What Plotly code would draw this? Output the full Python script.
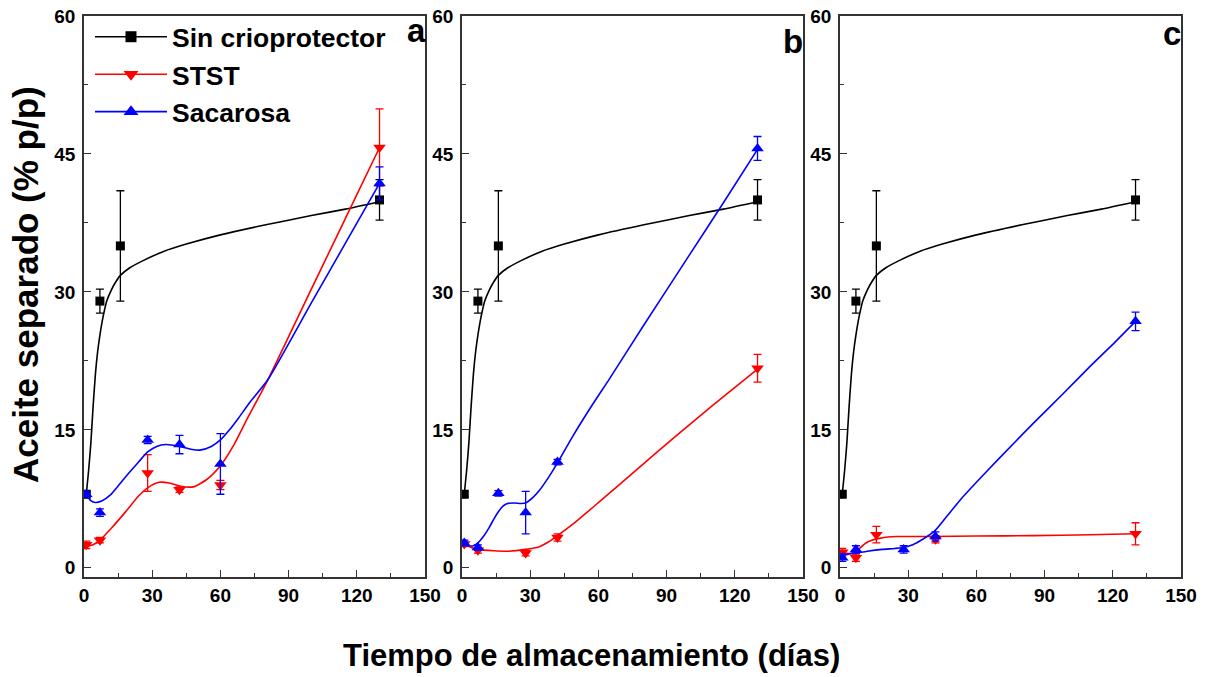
import plotly.graph_objects as go

# ---------------- data ----------------
# Sin crioprotector (identical in all three panels)
days_black = [1, 7, 16, 130]
val_black = [8.0, 29.0, 35.0, 40.0]
err_black = [0.3, 1.3, 6.0, 2.2]
fit_days_black = [1, 2, 3, 4, 5, 6, 7, 8, 9, 10, 12, 14, 16, 20, 26, 35, 45, 60, 80, 100, 115, 130]
fit_black = [8.0, 10.5, 13.5, 17.5, 21.0, 23.5, 25.3, 26.8, 28.0, 29.0, 30.2, 31.1, 31.8, 32.6,
             33.4, 34.4, 35.2, 36.2, 37.3, 38.3, 39.0, 39.8]

# Panel a
days_stst_a = [1, 7, 28, 42, 60, 130]
val_stst_a = [2.5, 3.0, 10.3, 8.5, 9.0, 45.7]
err_stst_a = [0.4, 0.3, 2.0, 0.3, 0.5, 4.2]
fit_days_stst_a = [1, 4, 7, 12, 18, 24, 28, 33, 38, 42, 48, 54, 60, 66, 72, 81, 100, 115, 130]
fit_stst_a = [2.3, 2.5, 3.0, 4.3, 6.0, 7.8, 8.7, 9.3, 9.2, 8.9, 8.8, 9.6, 11.1, 13.4, 16.3, 20.5,
              30.3, 38.0, 45.7]

days_sac_a = [1, 7, 28, 42, 60, 130]
val_sac_a = [8.0, 6.0, 13.9, 13.4, 11.3, 41.8]
err_sac_a = [0.3, 0.4, 0.4, 1.0, 3.3, 1.8]
fit_days_sac_a = [1, 3, 5, 8, 11.5, 15, 19, 24, 28, 32, 36, 42, 47, 51, 56, 60, 64, 68, 73, 81, 100, 115, 130]
fit_sac_a = [8.0, 7.3, 7.1, 7.3, 7.9, 8.9, 10.1, 11.5, 12.6, 13.2, 13.4, 13.2, 12.9, 12.8, 13.2,
             13.9, 15.0, 16.3, 18.0, 20.5, 28.8, 35.3, 41.8]

# Panel b
days_stst_b = [1, 7, 28, 42, 130]
val_stst_b = [2.6, 1.9, 1.6, 3.3, 21.7]
err_stst_b = [0.3, 0.3, 0.3, 0.4, 1.5]
fit_days_stst_b = [1, 4, 7, 14, 20, 28, 34, 38, 42, 50, 61, 77, 93, 110, 130]
fit_stst_b = [2.6, 2.2, 2.0, 1.85, 1.8, 2.0, 2.3, 2.8, 3.5, 5.0, 7.3, 10.7, 14.1, 17.6, 21.6]

days_sac_b = [1, 7, 16, 28, 42, 130]
val_sac_b = [2.7, 2.2, 8.1, 6.0, 11.5, 45.6]
err_sac_b = [0.3, 0.3, 0.3, 2.3, 0.3, 1.3]
fit_days_sac_b = [1, 3, 5, 7, 9.4, 12, 14, 16, 18, 20, 23, 26, 28, 31, 34, 38, 42, 48, 56.5, 65,
                  80, 100, 115, 130]
fit_sac_b = [2.6, 2.4, 2.4, 2.7, 3.4, 4.4, 5.3, 6.1, 6.7, 7.0, 7.05, 7.0, 7.05, 7.6, 8.4, 9.8,
             11.4, 14.0, 17.4, 20.6, 26.4, 34.0, 39.7, 45.5]

# Panel c
days_stst_c = [1, 7, 16, 42, 130]
val_stst_c = [1.7, 1.1, 3.6, 3.1, 3.7]
err_stst_c = [0.4, 0.4, 0.9, 0.4, 1.2]
fit_days_stst_c = [1, 4, 7, 9, 11.4, 14, 17.3, 21, 25, 40, 60, 85, 110, 130]
fit_stst_c = [1.6, 1.55, 1.7, 2.2, 2.7, 3.0, 3.2, 3.35, 3.4, 3.4, 3.45, 3.5, 3.6, 3.7]

days_sac_c = [1, 7, 28, 42, 130]
val_sac_c = [1.1, 2.0, 2.0, 3.4, 26.8]
err_sac_c = [0.4, 0.4, 0.4, 0.5, 1.0]
fit_days_sac_c = [1, 4, 7, 12, 18.6, 24, 28, 32, 36.4, 42, 47, 52.6, 60, 70, 85, 98, 110, 120, 130]
fit_sac_c = [1.3, 1.5, 1.6, 1.8, 2.0, 2.1, 2.2, 2.5, 3.1, 4.1, 5.6, 7.3, 9.3, 11.9, 15.7, 18.9,
             21.9, 24.3, 26.8]

series_names = ["Sin crioprotector", "STST", "Sacarosa"]
panel_labels = ["a", "b", "c"]
x_ticks = [0, 30, 60, 90, 120, 150]
y_ticks = [0, 15, 30, 45, 60]
x_title = "Tiempo de almacenamiento (días)"
y_title = "Aceite separado (% p/p)"

# ---------------- style ----------------
W, H = 1207, 677
FONT = "Liberation Sans"
colors = ["#000000", "#ff0000", "#0000ff"]
symbols = ["square", "triangle-down", "triangle-up"]
msizes = [9, 11, 11]
frame = "#333333"


def px(xs):
    return xs / W


def py(ys):
    return 1 - ys / H


panel_px = [(84, 425), (462, 803), (840, 1181)]
ydom = [py(577), py(16)]

panels = [
    [(days_black, val_black, err_black, fit_days_black, fit_black),
     (days_stst_a, val_stst_a, err_stst_a, fit_days_stst_a, fit_stst_a),
     (days_sac_a, val_sac_a, err_sac_a, fit_days_sac_a, fit_sac_a)],
    [(days_black, val_black, err_black, fit_days_black, fit_black),
     (days_stst_b, val_stst_b, err_stst_b, fit_days_stst_b, fit_stst_b),
     (days_sac_b, val_sac_b, err_sac_b, fit_days_sac_b, fit_sac_b)],
    [(days_black, val_black, err_black, fit_days_black, fit_black),
     (days_stst_c, val_stst_c, err_stst_c, fit_days_stst_c, fit_stst_c),
     (days_sac_c, val_sac_c, err_sac_c, fit_days_sac_c, fit_sac_c)],
]

fig = go.Figure()
for p, series in enumerate(panels):
    xa = "x" if p == 0 else f"x{p+1}"
    ya = "y" if p == 0 else f"y{p+1}"
    for s, (dx, dy, de, fx, fy) in enumerate(series):
        fig.add_trace(go.Scatter(
            x=fx, y=fy, mode="lines", line=dict(color=colors[s], width=1.6, shape="spline", smoothing=0.6),
            xaxis=xa, yaxis=ya, showlegend=False, hoverinfo="skip"))
        fig.add_trace(go.Scatter(
            x=dx, y=dy, mode="markers",
            marker=dict(symbol=symbols[s], size=msizes[s], color=colors[s], line=dict(width=0)),
            error_y=dict(type="data", array=de, visible=True, color=colors[s], thickness=1.3, width=4),
            xaxis=xa, yaxis=ya, showlegend=False))

# legend entries
for s in range(3):
    fig.add_trace(go.Scatter(
        x=[None], y=[None], mode="lines+markers", name=series_names[s],
        line=dict(color=colors[s], width=1.6),
        marker=dict(symbol=symbols[s], size=msizes[s] + 2, color=colors[s]),
        xaxis="x", yaxis="y", legendgroup=f"g{s}"))

layout = dict(
    template="none",
    width=W, height=H, margin=dict(l=0, r=0, t=0, b=0, pad=0, autoexpand=False),
    paper_bgcolor="white", plot_bgcolor="white",
    font=dict(family=FONT, color="black"),
    legend=dict(x=px(90), y=py(13), xanchor="left", yanchor="top", borderwidth=0,
                bgcolor="rgba(0,0,0,0)", font=dict(family=FONT, size=26.5, color="black", weight="bold"),
                itemwidth=72, tracegroupgap=0, traceorder="normal"),
    annotations=[],
)
label_right = [428, 805, 1183]
label_mid = [31, 41, 34]
for p in range(3):
    xk = "xaxis" if p == 0 else f"xaxis{p+1}"
    yk = "yaxis" if p == 0 else f"yaxis{p+1}"
    x0, x1 = panel_px[p]
    layout[xk] = dict(
        domain=[px(x0), px(x1)], range=[0, 150], anchor="y" if p == 0 else f"y{p+1}",
        tickvals=x_ticks, ticks="inside", ticklen=7, tickwidth=1.3, tickcolor=frame,
        minor=dict(ticks="inside", ticklen=4, dtick=15, tick0=0, tickcolor=frame, showgrid=False),
        showline=True, mirror=True, linecolor=frame, linewidth=1.5, showgrid=False, zeroline=False,
        tickfont=dict(family=FONT, size=19, color="black", weight="bold"), ticklabelstandoff=0,
        ticklabeloverflow="allow", automargin=False)
    layout[yk] = dict(
        domain=ydom, range=[-1, 60], anchor="x" if p == 0 else f"x{p+1}",
        tickvals=y_ticks, ticks="inside", ticklen=7, tickwidth=1.3, tickcolor=frame,
        minor=dict(ticks="inside", ticklen=4, dtick=7.5, tick0=0, tickcolor=frame, showgrid=False),
        showline=True, mirror=True, linecolor=frame, linewidth=1.5, showgrid=False, zeroline=False,
        tickfont=dict(family=FONT, size=19, color="black", weight="bold"), ticklabelstandoff=3,
        ticklabeloverflow="allow", automargin=False)
    layout["annotations"].append(dict(
        text=panel_labels[p], xref="paper", yref="paper", x=px(label_right[p]), y=py(label_mid[p]),
        xanchor="right", yanchor="middle", showarrow=False,
        font=dict(family=FONT, size=33, color="black", weight="bold")))

layout["annotations"].append(dict(
    text=x_title, xref="paper", yref="paper", x=px(591), y=py(655),
    xanchor="center", yanchor="middle", showarrow=False,
    font=dict(family=FONT, size=31, color="black", weight="bold")))
layout["annotations"].append(dict(
    text=y_title, xref="paper", yref="paper", x=px(25), y=py(285), textangle=-90,
    xanchor="center", yanchor="middle", showarrow=False,
    font=dict(family=FONT, size=35, color="black", weight="bold")))

fig.update_layout(**layout)
# remove the browser's default page margin so the figure sits at the window origin
fig.write_html("out.html", config={"displayModeBar": False},
               post_script="document.body.style.margin='0px';")
